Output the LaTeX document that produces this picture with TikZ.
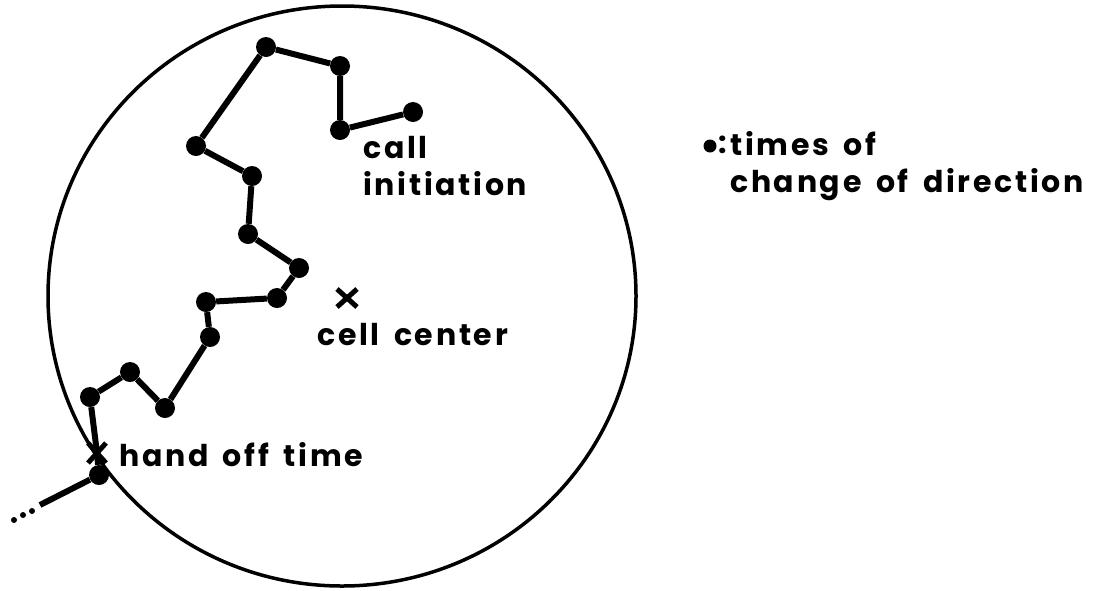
\documentclass[tikz,border=0pt]{standalone}
\usepackage{fontspec}
\setmainfont{Poppins}[LetterSpace=9,WordSpace=1.6]
\usetikzlibrary{positioning}

\begin{document}
\begin{tikzpicture}[x=1pt,y=-1pt,
dot/.style={circle,fill,inner sep=0pt,minimum size=20pt},
keydot/.style={circle,fill,inner sep=0pt,minimum size=13pt},
speck/.style={circle,fill,inner sep=0pt,minimum size=6pt},
walk/.style={line width=6pt},
cross/.style={line width=5pt},
lbl/.style={font=\fontsize{30}{37}\selectfont\bfseries,inner sep=0pt,align=left}]
\useasboundingbox (0,0) rectangle (1110,590);
% cell boundary
\draw[line width=3.5pt] (342,296) ellipse [x radius=294, y radius=290];
% change-of-direction points
\node[dot] (p1) at (413,112) {};
\node[dot] (p2) at (340,130) {};
\node[dot] (p3) at (340,66) {};
\node[dot] (p4) at (266,47) {};
\node[dot] (p5) at (196,146) {};
\node[dot] (p6) at (252,176) {};
\node[dot] (p7) at (248,234) {};
\node[dot] (p8) at (299,268) {};
\node[dot] (p9) at (277,298) {};
\node[dot] (p10) at (206,302) {};
\node[dot] (p11) at (210,337) {};
\node[dot] (p12) at (165,408) {};
\node[dot] (p13) at (130,372) {};
\node[dot] (p14) at (90,397) {};
\coordinate (handoff) at (97,453);
\node[dot] (p15) at (99,475) {};
\coordinate (tail) at (40,505);
\node[speck] (s1) at (32,511) {};
\node[speck] (s2) at (23,515) {};
\node[speck] (s3) at (14,520) {};
\draw[walk] (p1)--(p2)--(p3)--(p4)--(p5)--(p6)--(p7)--(p8)--(p9)--(p10)--(p11)--(p12)--(p13)--(p14)--(handoff)--(p15)--(tail);
% crosses
\coordinate (center) at (347,298);
\draw[cross] ([shift={(-10,-9)}]center)--([shift={(10,9)}]center) ([shift={(-10,9)}]center)--([shift={(10,-9)}]center);
\draw[cross] ([shift={(-9,-10)}]handoff)--([shift={(9,10)}]handoff) ([shift={(-9,10)}]handoff)--([shift={(9,-10)}]handoff);
% labels
\node[lbl,anchor=base west] (init) at (363,195) {call\\initiation};
\node[lbl,anchor=base west] (cc) at (317,345) {cell center};
\node[lbl,anchor=base west] (ho) at (119,466) {hand off time};
% key
\node[keydot] (key) at (710,146) {};
\node[lbl,anchor=base west] (colon) at (718,153) {:};
\node[lbl,anchor=base west] (keytext) at (730,192) {times of\\change of direction};
\end{tikzpicture}
\end{document}
